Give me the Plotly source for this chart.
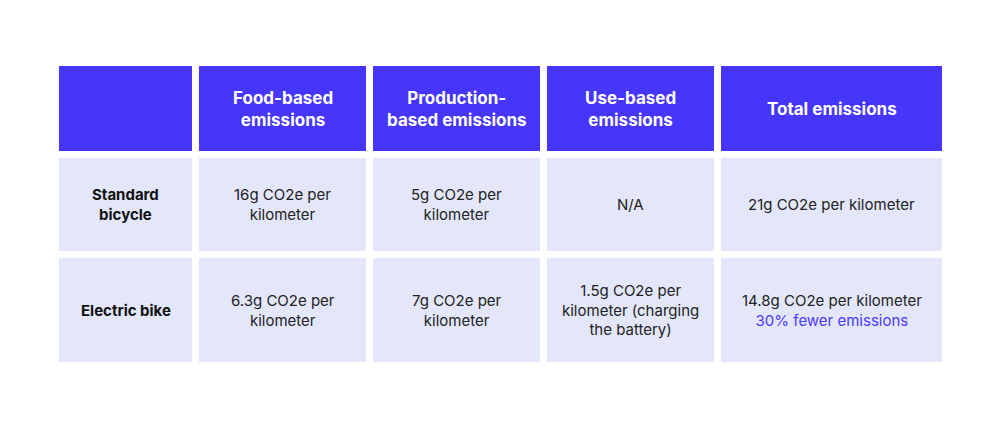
import plotly.graph_objects as go

headers = ["", "Food-based<br>emissions", "Production-<br>based emissions", "Use-based<br>emissions", "Total emissions"]
row_labels = ["Standard<br>bicycle", "Electric bike"]
cells = [
    ["16g CO2e per<br>kilometer", "5g CO2e per<br>kilometer", "N/A", "21g CO2e per kilometer"],
    ["6.3g CO2e per<br>kilometer", "7g CO2e per<br>kilometer", "1.5g CO2e per<br>kilometer (charging<br>the battery)",
     "14.8g CO2e per kilometer<br><span style='color:#4a3aff'>30% fewer emissions</span>"],
]

col_edges = [(59, 192), (199, 366), (373, 540), (547, 714), (721, 942)]
row_edges = [(66, 151), (158, 251), (258, 362)]
HEAD = "#4636fc"
BODY = "#e4e7fb"

fig = go.Figure()
shapes, ann = [], []
for r, (y0, y1) in enumerate(row_edges):
    for c, (x0, x1) in enumerate(col_edges):
        shapes.append(dict(type="rect", x0=x0, x1=x1, y0=y0, y1=y1, line_width=0,
                           fillcolor=HEAD if r == 0 else BODY, layer="below"))
        if r == 0:
            txt, col, size = f"<b>{headers[c]}</b>", "white", 17
        elif c == 0:
            txt, col, size = f"<b>{row_labels[r-1]}</b>", "#111111", 15
        else:
            txt, col, size = cells[r-1][c-1], "#222222", 15
        if txt.replace("<b></b>", ""):
            ann.append(dict(x=(x0+x1)/2, y=(y0+y1)/2, text=txt, showarrow=False,
                            font=dict(family="Inter", size=size, color=col),
                            align="center", xanchor="center", yanchor="middle"))

fig.update_layout(width=1000, height=434, margin=dict(l=0, r=0, t=0, b=0),
                  plot_bgcolor="white", paper_bgcolor="white",
                  shapes=shapes, annotations=ann,
                  xaxis=dict(range=[8, 1008], visible=False, fixedrange=True),
                  yaxis=dict(range=[442, 8], visible=False, fixedrange=True),
                  showlegend=False)
fig.write_html("out.html")
